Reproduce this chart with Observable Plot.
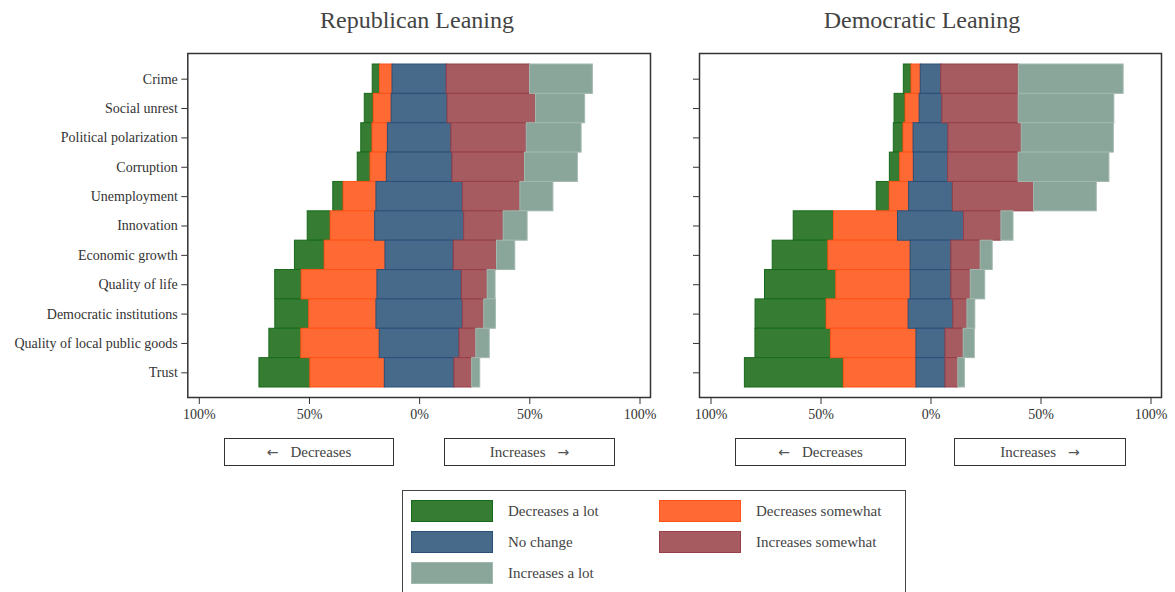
<!DOCTYPE html>
<html><head><meta charset="utf-8">
<script src="https://cdn.jsdelivr.net/npm/d3@7"></script>
<script src="https://cdn.jsdelivr.net/npm/@observablehq/plot@0.6"></script>
<style>
body{margin:0;background:#fff;font-family:"Liberation Serif",serif;color:#444}
#root{position:relative;width:1175px;height:592px;overflow:hidden;background:#fff}
.abs{position:absolute}
.title{font-size:24px;line-height:24px;white-space:nowrap;transform:translateX(-50%);color:#444}
.box{position:absolute;border:1px solid #333;box-sizing:border-box;display:flex;align-items:center;justify-content:center;font-size:15px;color:#444;height:28px;top:438px}
.box .ar{font-family:"DejaVu Sans",sans-serif;font-size:14px;color:#555}
.lgtext{position:absolute;font-size:15px;line-height:22px;white-space:nowrap;color:#444}
.sw{position:absolute;width:82px;height:22px;box-sizing:border-box;border:1.5px solid}
</style></head>
<body><div id="root"></div>
<script>
const categories = ["Crime","Social unrest","Political polarization","Corruption","Unemployment","Innovation","Economic growth","Quality of life","Democratic institutions","Quality of local public goods","Trust"];
const responses = ["Decreases a lot","Decreases somewhat","No change","Increases somewhat","Increases a lot"];
const panelTitles = ["Republican Leaning","Democratic Leaning"];
const tickValues = [-100,-50,0,50,100];

const repDecLot   = [3.3,4.1,5.1,5.8,4.7,10.4,13.5,12.0,15.4,14.5,23.1];
const repDecSome  = [5.7,8.1,7.0,7.4,14.9,20.2,27.6,34.4,30.5,35.6,33.8];
const repNoChange = [24.6,25.4,28.8,29.8,39.2,40.4,31.0,38.3,39.2,36.2,31.6];
const repIncSome  = [37.8,40.1,34.2,32.9,26.1,17.9,19.6,11.7,9.7,7.6,8.0];
const repIncLot   = [28.5,22.3,24.9,24.0,15.0,10.9,8.3,3.6,5.3,6.1,3.7];

const demDecLot   = [3.5,5.0,4.4,4.7,5.9,18.3,25.3,32.4,32.3,34.3,45.0];
const demDecSome  = [4.2,6.4,4.6,6.2,8.8,29.1,37.4,33.8,37.3,38.9,33.0];
const demNoChange = [9.3,10.3,15.8,15.6,19.9,30.0,18.5,18.5,20.3,13.2,13.2];
const demIncSome  = [35.3,34.7,33.3,32.0,36.9,17.0,13.3,8.8,6.4,8.2,5.8];
const demIncLot   = [47.6,43.5,41.9,41.3,28.5,5.5,5.5,6.6,3.6,5.1,3.0];

const fills   = ["#367d33","#ff6933","#486a8a","#a55b60","#8aa59a"];
const strokes = ["#17691a","#ff5218","#2a5079","#963e49","#a3b8ae"];

const root = document.getElementById("root");

function panel(vals, showLabels, width, ml, mr) {
  const rows = [];
  categories.forEach((cat, i) => {
    let x = -(vals[0][i] + vals[1][i] + vals[2][i] / 2);
    responses.forEach((r, k) => {
      const v = vals[k][i];
      rows.push({cat, r, k, x1: x, x2: x + v});
      x += v;
    });
  });
  return Plot.plot({
    width, height: 430,
    marginTop: 53, marginBottom: 33, marginLeft: ml, marginRight: mr,
    style: {fontFamily: '"Liberation Serif", serif', fontSize: "14px", color: "#333", background: "transparent", overflow: "visible"},
    x: {domain: [-100, 100], ticks: tickValues, tickFormat: d => Math.abs(d) + "%", insetLeft: 11.5, insetRight: 10.5, label: null, tickSize: 7, tickPadding: 5},
    y: {domain: categories, padding: 0, round: false, insetTop: 11, insetBottom: 10, label: null, tickSize: 6, tickPadding: 4, tickFormat: showLabels ? (d => d) : (() => "")},
    marks: [
      ...responses.map((r, k) => Plot.barX(rows.filter(d => d.k === k), {x1: "x1", x2: "x2", y: "cat", fill: fills[k], stroke: strokes[k], strokeWidth: 1})),
      Plot.frame({stroke: "#333", strokeWidth: 1.5})
    ]
  });
}

const left = panel([repDecLot, repDecSome, repNoChange, repIncSome, repIncLot], true, 660, 187.3, 10);
left.style.position = "absolute"; left.style.left = "0px"; left.style.top = "0px";
root.appendChild(left);
const right = panel([demDecLot, demDecSome, demNoChange, demIncSome, demIncLot], false, 505, 29, 14);
right.style.position = "absolute"; right.style.left = "670px"; right.style.top = "0px";
root.appendChild(right);

// titles
[[panelTitles[0], 417], [panelTitles[1], 922]].forEach(([t, cx]) => {
  const d = document.createElement("div");
  d.className = "abs title"; d.style.left = cx + "px"; d.style.top = "8px"; d.textContent = t;
  root.appendChild(d);
});

// direction boxes
[[224,170,"dec"],[444,171,"inc"],[735,171,"dec"],[954,172,"inc"]].forEach(([x,w,kind]) => {
  const d = document.createElement("div");
  d.className = "box"; d.style.left = x + "px"; d.style.width = w + "px";
  d.innerHTML = kind === "dec"
    ? '<span class="ar" style="margin-right:12px">\u2190</span><span>Decreases</span>'
    : '<span>Increases</span><span class="ar" style="margin-left:12px">\u2192</span>';
  root.appendChild(d);
});

// legend
const lg = document.createElement("div");
lg.className = "abs";
Object.assign(lg.style, {left: "402px", top: "490px", width: "504px", height: "120px", border: "1.5px solid #444", boxSizing: "border-box"});
root.appendChild(lg);
const lgPos = [[411,500],[659,500],[411,531],[659,531],[411,562]];
responses.forEach((r, k) => {
  const [x, y] = lgPos[k];
  const s = document.createElement("div");
  s.className = "sw";
  Object.assign(s.style, {left: x + "px", top: y + "px", background: fills[k], borderColor: strokes[k]});
  root.appendChild(s);
  const t = document.createElement("div");
  t.className = "lgtext";
  Object.assign(t.style, {left: (x + 97) + "px", top: y + "px"});
  t.textContent = r;
  root.appendChild(t);
});
</script>
</body></html>
